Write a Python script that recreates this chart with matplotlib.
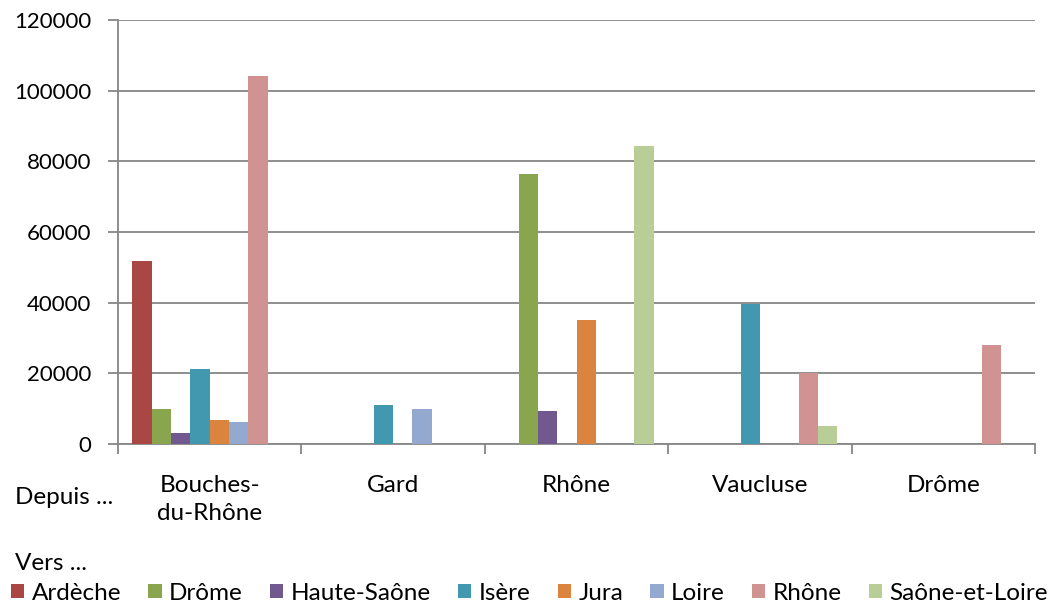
import numpy as np
import matplotlib.pyplot as plt
from matplotlib.patches import Patch

plt.rcParams['font.family'] = ['Lato', 'DejaVu Sans']

# Départements de départ (catégories)
categories = ["Bouches-\ndu-Rhône", "Gard", "Rhône", "Vaucluse", "Drôme"]

# Départements d'arrivée (séries)
series_names = ["Ardèche", "Drôme", "Haute-Saône", "Isère", "Jura",
                "Loire", "Rhône", "Saône-et-Loire"]
ardeche = [51800, 0, 0, 0, 0]
drome = [9900, 0, 76400, 0, 0]
haute_saone = [3100, 0, 9300, 0, 0]
isere = [21200, 11000, 0, 39600, 0]
jura = [6900, 0, 35100, 0, 0]
loire = [6300, 9900, 0, 0, 0]
rhone = [104100, 0, 0, 20100, 28000]
saone_et_loire = [0, 0, 84300, 5100, 0]
series_values = [ardeche, drome, haute_saone, isere, jura, loire, rhone, saone_et_loire]

colors = ["#aa4643", "#89a54e", "#71588f", "#4198af", "#db843d",
          "#93a9cf", "#d19392", "#b9cd96"]

y_ticks = [0, 20000, 40000, 60000, 80000, 100000, 120000]

fig = plt.figure(figsize=(10.5, 6.03), dpi=100)
ax = fig.add_axes([118 / 1050, 1 - 444 / 603, (1035 - 118) / 1050, (444 - 20) / 603])

x = np.arange(len(categories))
w = 1 / 9.5
n = len(series_names)
for i, (vals, col) in enumerate(zip(series_values, colors)):
    ax.bar(x + (i - (n - 1) / 2) * w, vals, width=w, color=col, linewidth=0, zorder=3)

grey = "#868686"
fs = 17.5
ax.set_xlim(-0.5, len(categories) - 0.5)
ax.set_ylim(0, 120000)
ax.set_yticks(y_ticks)
ax.set_yticklabels([str(v) for v in y_ticks], fontsize=16)
ax.grid(axis='y', color=grey, linewidth=1.3, zorder=0)
ax.tick_params(axis='y', length=7, width=1.3, color=grey, pad=12)

ax.set_xticks(x)
ax.set_xticklabels(categories, fontsize=fs, va='top', linespacing=1.45)
ax.tick_params(axis='x', which='major', length=0, pad=22)
ax.set_xticks(np.arange(-0.5, len(categories)), minor=True)
ax.tick_params(axis='x', which='minor', length=7, width=1.3, color=grey)

for side in ['top', 'right']:
    ax.spines[side].set_visible(False)
for side in ['left', 'bottom']:
    ax.spines[side].set_color(grey)
    ax.spines[side].set_linewidth(1.3)

fig.text(15 / 1050, 1 - 497 / 603, "Depuis ...", fontsize=fs, va='center', ha='left')
fig.text(15 / 1050, 1 - 563 / 603, "Vers ...", fontsize=fs, va='center', ha='left')

handles = [Patch(facecolor=c, edgecolor='none') for c in colors]
fig.legend(handles, series_names, ncol=8, loc='center left',
           bbox_to_anchor=(11 / 1050, 1 - 593 / 603), frameon=False, fontsize=fs,
           handlelength=0.55, handleheight=0.55, handletextpad=0.3,
           columnspacing=1.12, borderpad=0, borderaxespad=0)

fig.savefig("out.png", dpi=100)
